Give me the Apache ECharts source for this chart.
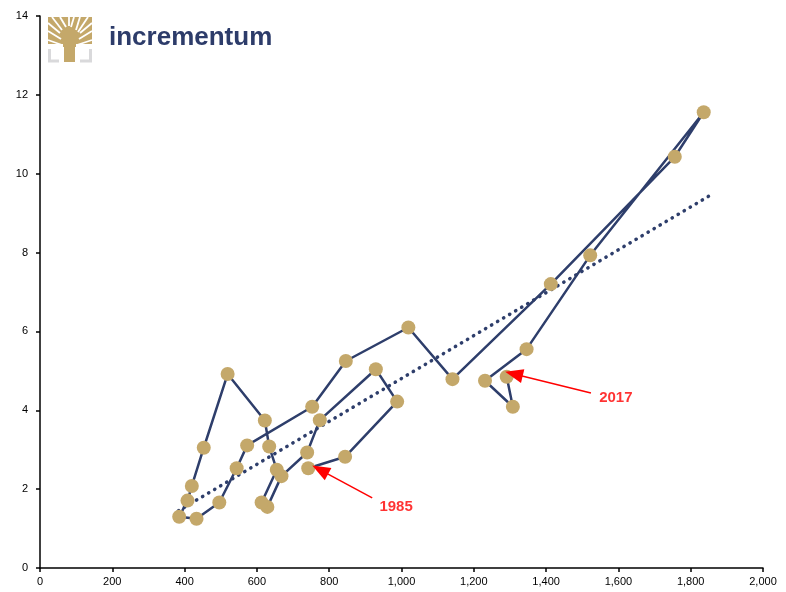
<!DOCTYPE html>
<html>
<head>
<meta charset="utf-8">
<script src="https://cdn.jsdelivr.net/npm/echarts@6/dist/echarts.min.js"></script>
<style>
html,body{margin:0;padding:0;background:#fff;}
#chart{width:786px;height:592px;}
</style>
</head>
<body>
<div id="chart"></div>
<script>
// Years 1985..2017
var years = [1985,1986,1987,1988,1989,1990,1991,1992,1993,1994,1995,1996,1997,1998,1999,2000,2001,2002,2003,2004,2005,2006,2007,2008,2009,2010,2011,2012,2013,2014,2015,2016,2017];
// x values (horizontal axis)
var xValues = [742,844,988,929,774,739,668,629,613,655,634,622,519,453,420,408,385,433,496,544,573,753,846,1019,1141,1413,1756,1836,1522,1346,1231,1308,1291];
// y values (vertical axis)
var yValues = [2.53,2.82,4.22,5.04,3.75,2.93,2.33,1.55,1.66,2.49,3.08,3.74,4.92,3.05,2.08,1.71,1.30,1.25,1.66,2.53,3.11,4.09,5.25,6.10,4.79,7.20,10.43,11.56,7.93,5.55,4.75,4.09,4.85];
// trend line end points
var trendX = [383, 1861];
var trendY = [1.45, 9.49];
// annotations
var annoLabels = ['1985','2017'];
var annoTail = [[919,1.78],[1524,4.44]];
var annoTip = [[775,2.49],[1311,4.92]];
var annoText = [[985,1.55],[1593,4.31]];
var xTicks = [0,200,400,600,800,1000,1200,1400,1600,1800,2000];

var navy = '#2E3E6B';
var gold = '#C4A86A';

var mainData = xValues.map(function(x,i){return [x,yValues[i]];});
var trendData = trendX.map(function(x,i){return [x,trendY[i]];});

var chart = echarts.init(document.getElementById('chart'));

// logo tree (decorative)
var treeParts = [
  {type:'rect', shape:{x:48, y:17, width:44, height:30}, style:{fill:gold}}
];
// white gaps between branches
var gaps = [[[52,17],[62,30]],[[60,17],[66,27]],[[69,17],[69,26]],[[74,17],[71,27]],[[80,17],[76,30]],[[88,17],[78,32]],
            [[48,23],[60,33]],[[92,23],[80,33]],[[48,31],[61,39]],[[92,31],[79,39]],[[48,40],[62,45]],[[92,40],[77,45]]];
gaps.forEach(function(g){
  treeParts.push({type:'line', shape:{x1:g[0][0], y1:g[0][1], x2:g[1][0], y2:g[1][1]}, style:{stroke:'#fff', lineWidth:1.8}});
});
treeParts.push({type:'rect', shape:{x:48, y:44, width:15, height:4}, style:{fill:'#fff'}});
treeParts.push({type:'rect', shape:{x:76, y:44, width:16, height:4}, style:{fill:'#fff'}});
treeParts.push({type:'rect', shape:{x:64, y:40, width:11, height:22}, style:{fill:gold}});
treeParts.push({type:'polyline', shape:{points:[[49.5,49],[49.5,61],[59,61]]}, style:{stroke:'#D9D9DB', lineWidth:3, fill:null}});
treeParts.push({type:'polyline', shape:{points:[[80,61],[90.5,61],[90.5,49]]}, style:{stroke:'#D9D9DB', lineWidth:3, fill:null}});

var option = {
  animation:false,
  grid:{left:40, right:23, top:16, bottom:24, containLabel:false},
  xAxis:{type:'value', min:0, max:2000, interval:200,
    axisLine:{lineStyle:{color:'#000', width:1.5}},
    axisTick:{show:true, length:4, lineStyle:{color:'#000', width:1.5}},
    splitLine:{show:false},
    axisLabel:{color:'#000', fontFamily:'Liberation Sans, Arial', fontSize:11, margin:8,
      formatter:function(v){return v.toLocaleString('en-US');}}
  },
  yAxis:{type:'value', min:0, max:14, interval:2,
    axisLine:{show:true, lineStyle:{color:'#000', width:1.5}},
    axisTick:{show:true, length:4, lineStyle:{color:'#000', width:1.5}},
    splitLine:{show:false},
    axisLabel:{color:'#000', fontFamily:'Liberation Sans, Arial', fontSize:11, margin:12}
  },
  graphic:[
    {type:'group', children: treeParts},
    {type:'text', left:109, top:25, style:{text:'incrementum', fill:'#2D3C6A', font:'bold 26px "Liberation Sans", Arial'}}
  ],
  series:[
    {type:'line', data:trendData, symbol:'none', z:1, silent:true,
      lineStyle:{color:navy, width:3.5, type:[0.3,6.7], cap:'round'}},
    {type:'line', data:mainData, symbol:'circle', symbolSize:14, z:3,
      itemStyle:{color:gold},
      lineStyle:{color:navy, width:2.5},
      markLine:{silent:true, symbol:['none','triangle'], symbolSize:[14,18],
        lineStyle:{color:'#FF0000', width:1.5, type:'solid'},
        label:{show:false},
        data: annoTail.map(function(t,i){return [{coord:t},{coord:annoTip[i]}];})
      }
    },
    {type:'scatter', data:annoText.map(function(p,i){return {value:p, name:annoLabels[i]};}),
      symbolSize:0, z:4, silent:true,
      label:{show:true, position:'inside', formatter:function(p){return p.name;},
        color:'#FF0000', fontWeight:'bold', fontSize:15, fontFamily:'Liberation Sans, Arial'}}
  ]
};
chart.setOption(option);
</script>
</body>
</html>
